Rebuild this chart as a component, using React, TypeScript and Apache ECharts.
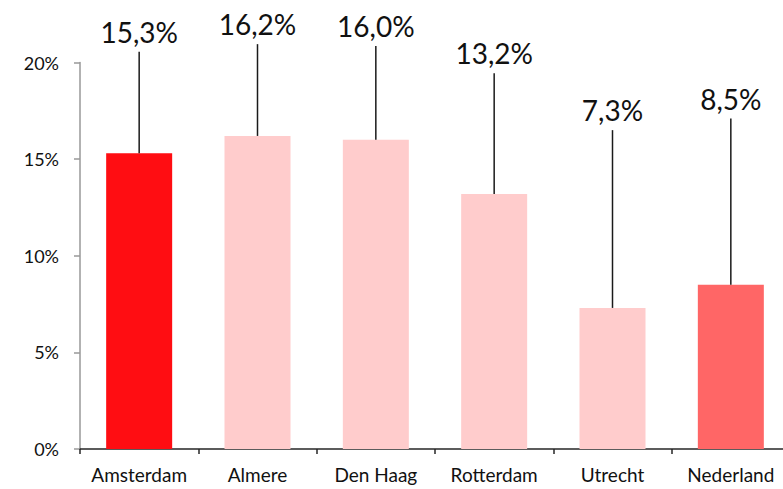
import React, { useEffect, useRef } from "react";
import * as echarts from "echarts";

const categories = ["Amsterdam", "Almere", "Den Haag", "Rotterdam", "Utrecht", "Nederland"];
const values = [15.3, 16.2, 16.0, 13.2, 7.3, 8.5];
const labelHeights = [20.55, 20.95, 20.85, 19.45, 16.5, 17.1];
const barColors = ["#ff0d12", "#ffcccc", "#ffcccc", "#ffcccc", "#ffcccc", "#ff6666"];
const yTicks = [0, 5, 10, 15, 20];

const FONT = "Lato, 'Open Sans', sans-serif";

export default function App() {
  const ref = useRef<HTMLDivElement>(null);
  useEffect(() => {
    document.body.style.margin = "0";
    document.body.style.overflow = "hidden";
    const chart = echarts.init(ref.current!, undefined, { renderer: "svg" });
    chart.setOption({
      animation: false,
      backgroundColor: "#ffffff",
      grid: { left: 80, top: 62.5, right: 10, bottom: 40, containLabel: false },
      xAxis: {
        type: "category",
        data: categories,
        axisLine: { lineStyle: { color: "#262626", width: 1.5 } },
        axisTick: { show: true, length: 5, lineStyle: { color: "#262626", width: 1.5 } },
        axisLabel: { color: "#111", fontSize: 19, fontFamily: FONT, margin: 16, interval: 0 },
      },
      yAxis: {
        type: "value",
        min: 0,
        max: 20,
        interval: 5,
        splitLine: { show: false },
        axisLine: { show: true, lineStyle: { color: "#999999", width: 1.5 } },
        axisTick: { show: true, length: 6, lineStyle: { color: "#999999", width: 1.5 } },
        axisLabel: {
          color: "#111",
          fontSize: 18,
          fontFamily: FONT,
          margin: 21,
          formatter: (v: number) => (yTicks.includes(v) ? `${v}%` : ""),
        },
      },
      series: [
        {
          type: "bar",
          barWidth: 66,
          data: values.map((v, i) => ({ value: v, itemStyle: { color: barColors[i] } })),
          z: 2,
        },
        {
          type: "custom",
          data: values.map((v, i) => [i, v, labelHeights[i]]),
          z: 3,
          renderItem: (params: any, api: any) => {
            const i = api.value(0);
            const bottom = api.coord([i, api.value(1)]);
            const top = api.coord([i, api.value(2)]);
            const txt = values[i].toFixed(1).replace(".", ",") + "%";
            return {
              type: "group",
              children: [
                {
                  type: "line",
                  shape: { x1: bottom[0], y1: bottom[1], x2: top[0], y2: top[1] },
                  style: { stroke: "#1a1a1a", lineWidth: 1.5 },
                },
                {
                  type: "text",
                  x: top[0],
                  y: top[1] - 6,
                  style: {
                    text: txt,
                    fill: "#111",
                    fontSize: 28,
                    fontFamily: FONT,
                    align: "center",
                    verticalAlign: "bottom",
                  },
                },
              ],
            };
          },
        },
      ],
    });
    return () => chart.dispose();
  }, []);
  return (
    <div style={{ width: 783, height: 489, overflow: "hidden" }}>
      <div ref={ref} style={{ width: 800, height: 489 }} />
    </div>
  );
}
